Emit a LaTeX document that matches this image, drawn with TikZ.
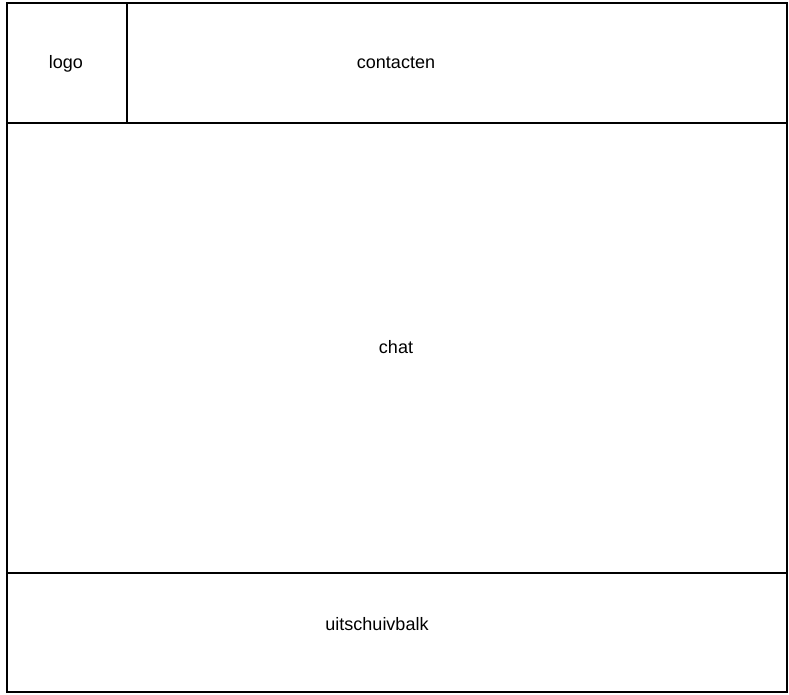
\documentclass[tikz,border=0pt]{standalone}
\usepackage{fontspec}
\setmainfont{Liberation Sans}
\usepackage{tikz}

\begin{document}
\begin{tikzpicture}[x=1pt,y=-1pt,line width=1.2pt,
  label/.style={font=\fontsize{18}{22}\selectfont,inner sep=0pt,anchor=base}]
\useasboundingbox (0,0) rectangle (789,694);
\draw (7,3) rectangle (787,692);
\draw (7,123) -- (787,123);
\draw (127,3) -- (127,123);
\draw (7,573) -- (787,573);
\node[label] (logo) at (66,68) {logo};
\node[label] (contacten) at (396,68) {contacten};
\node[label] (chat) at (396,353) {chat};
\node[label] (balk) at (377,630) {uitschuivbalk};
\end{tikzpicture}
\end{document}
